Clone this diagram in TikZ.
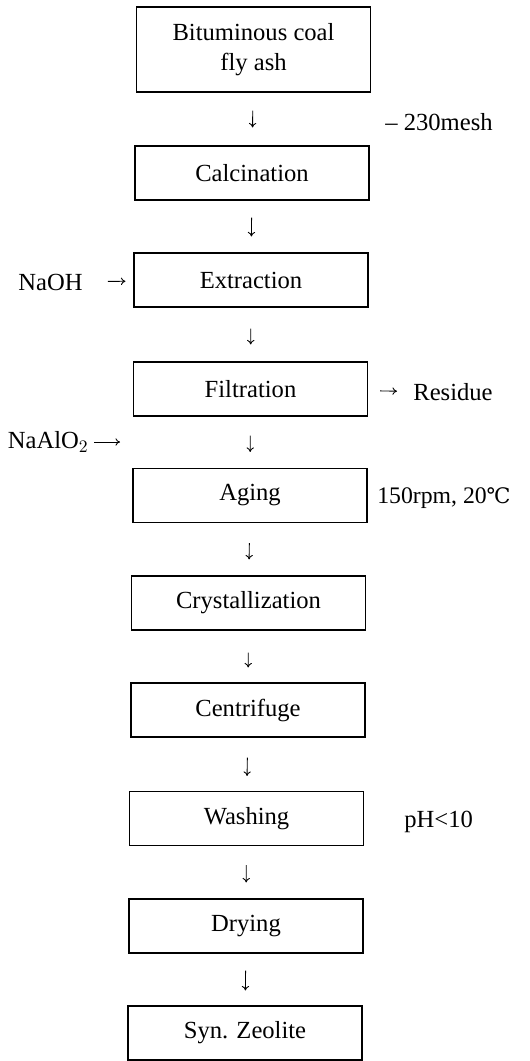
\documentclass[tikz,border=0pt]{standalone}
\usepackage{fontspec}
\setmainfont{Liberation Serif}
\newfontfamily\symfont[Scale=0.9]{DejaVu Serif}
\usetikzlibrary{arrows.meta}

\begin{document}
\begin{tikzpicture}[
  font=\fontsize{14}{17}\selectfont,
  stage/.style={rectangle, draw, black, line width=0.6pt, minimum width=4.68cm, minimum height=1.08cm, align=center},
  side/.style={inner sep=0pt},
  flow/.style={-{To[length=2.6pt,width=4.2pt]}, line width=0.5pt}
]
\useasboundingbox (0,0) rectangle (10.6,-21.22);

\draw
(5.07, -0.99) node[stage, minimum height=1.70cm](ash){Bituminous coal\\fly ash}
(5.04, -3.46) node[stage](calc){Calcination}
(5.02, -5.60) node[stage](extr){Extraction}
(5.01, -7.78) node[stage](filt){Filtration}
(5.00, -9.91) node[stage](agin){Aging}
(4.97,-12.06) node[stage](crys){Crystallization}
(4.96,-14.20) node[stage](cent){Centrifuge}
(4.93,-16.37) node[stage](wash){Washing}
(4.92,-18.52) node[stage](dry){Drying}
(4.90,-20.66) node[stage](zeo){Syn. Zeolite}

(7.70, -2.44) node[side, anchor=west](mesh){-- 230mesh}
(0.36, -5.64) node[side, anchor=west](naoh){NaOH}
(8.26, -7.84) node[side, anchor=west](res){Residue}
(1.78, -8.84) node[side, anchor=east](naal){NaAlO$_2$}
(7.54, -9.96) node[side, anchor=west, font=\fontsize{13.5}{16}\selectfont](cond){150rpm, 20{\symfont ℃}}
(8.08,-16.44) node[side, anchor=west](ph){pH<10};

\coordinate (naalend) at (2.40, -8.84);

% main line
\draw[flow, shorten <=0.36cm, shorten >=0.36cm] (ash) -- (calc);
\draw[flow, shorten <=0.34cm, shorten >=0.32cm] (calc) -- (extr);
\draw[flow, shorten <=0.42cm, shorten >=0.34cm] (extr) -- (filt);
\draw[flow, shorten <=0.38cm, shorten >=0.32cm] (filt) -- (agin);
\draw[flow, shorten <=0.40cm, shorten >=0.32cm] (agin) -- (crys);
\draw[flow, shorten <=0.44cm, shorten >=0.30cm] (crys) -- (cent);
\draw[flow, shorten <=0.40cm, shorten >=0.30cm] (cent) -- (wash);
\draw[flow, shorten <=0.38cm, shorten >=0.32cm] (wash) -- (dry);
\draw[flow, shorten <=0.34cm, shorten >=0.30cm] (dry) -- (zeo);

% side streams
\draw[flow, shorten <=0.50cm, shorten >=0.16cm] (naoh) -- (extr);
\draw[flow, shorten <=0.24cm, shorten >=0.32cm] (filt) -- (res);
\draw[flow, shorten <=0.10cm] (naal) -- (naalend);

\end{tikzpicture}
\end{document}
